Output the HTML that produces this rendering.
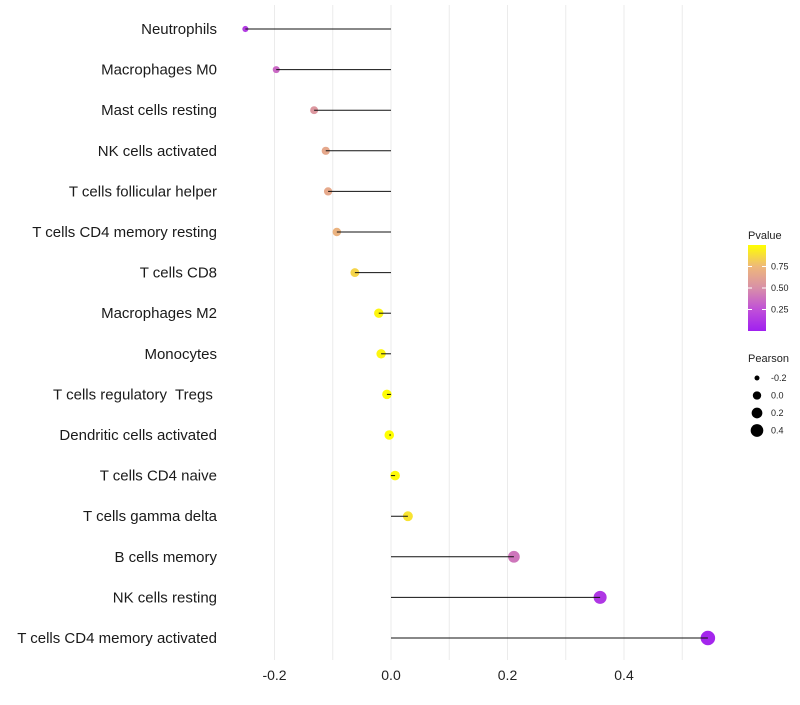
<!DOCTYPE html>
<html><head><meta charset="utf-8"><style>
body{margin:0;background:#fff;font-family:"Liberation Sans",sans-serif}
text{white-space:pre}
</style></head><body>
<svg id="chart" width="800" height="700" xmlns="http://www.w3.org/2000/svg" font-family="Liberation Sans, sans-serif"></svg>
<script>
const categories=["Neutrophils","Macrophages M0","Mast cells resting","NK cells activated","T cells follicular helper","T cells CD4 memory resting","T cells CD8","Macrophages M2","Monocytes","T cells regulatory  Tregs ","Dendritic cells activated","T cells CD4 naive","T cells gamma delta","B cells memory","NK cells resting","T cells CD4 memory activated"];
const pearson=[-0.25,-0.197,-0.132,-0.112,-0.108,-0.093,-0.062,-0.021,-0.017,-0.007,-0.003,0.007,0.029,0.211,0.359,0.544];
const pvalue=[0.15,0.35,0.55,0.65,0.66,0.72,0.85,0.97,0.97,0.99,1.0,0.98,0.9,0.4,0.12,0.03];
const xTicks=[-0.2,0,0.2,0.4];
const xTickLabels=["-0.2","0.0","0.2","0.4"];
const pTicks=[0.25,0.5,0.75];
const sizeTicks=[-0.2,0,0.2,0.4];

const NS="http://www.w3.org/2000/svg";
const svg=document.getElementById('chart');
function mk(t,a,p){const e=document.createElementNS(NS,t);for(const k in a)e.setAttribute(k,a[k]);(p||svg).appendChild(e);return e;}
const x=v=>391+v*582.5;
const y=i=>29+i*40.6;
const r=v=>Math.sqrt(Math.max(4,23+54.4*v));
const stops=[[0,[160,32,240]],[0.25,[192,80,216]],[0.5,[216,143,168]],[0.75,[238,184,122]],[1,[255,255,0]]];
function col(p){for(let i=1;i<stops.length;i++){if(p<=stops[i][0]){const a=stops[i-1],b=stops[i],t=(p-a[0])/(b[0]-a[0]);return 'rgb('+a[1].map((c,k)=>Math.round(c+(b[1][k]-c)*t)).join(',')+')';}}return 'rgb(255,255,0)';}

for(let g=-0.2;g<=0.51;g+=0.1){const l=mk('line',{x1:x(g),x2:x(g),y1:5,y2:660,stroke:'#ebebeb','stroke-width':1});

}
xTicks.forEach((t,i)=>{const tx=mk('text',{x:x(t),y:680,'text-anchor':'middle','font-size':14,fill:'#222'});tx.textContent=xTickLabels[i];

});

categories.forEach((c,i)=>{
 const lb=mk('text',{x:217,y:y(i)+5,'text-anchor':'end','font-size':15,fill:'#1a1a1a'});lb.textContent=c;
 
 
 const pt=mk('circle',{cx:x(pearson[i]),cy:y(i),r:r(pearson[i]),fill:col(pvalue[i])});
 
 
 const ln=mk('line',{x1:x(0),x2:x(pearson[i]),y1:y(i),y2:y(i),stroke:'#111','stroke-width':1});
 
 
});

const lg=mk('g',{});
const defs=mk('defs',{});const gr=mk('linearGradient',{id:'pg',x1:0,y1:1,x2:0,y2:0},defs);
stops.forEach(s=>mk('stop',{offset:s[0],'stop-color':'rgb('+s[1].join(',')+')'},gr));
const t1=mk('text',{x:748,y:239,'font-size':11,fill:'#222'},lg);t1.textContent='Pvalue';
mk('rect',{x:748,y:245,width:18,height:86,fill:'url(#pg)'},lg);
pTicks.forEach(p=>{const yy=331-p*86;mk('line',{x1:748,x2:752,y1:yy,y2:yy,stroke:'#fff'},lg);mk('line',{x1:762,x2:766,y1:yy,y2:yy,stroke:'#fff'},lg);
 const t=mk('text',{x:771,y:yy+3,'font-size':9,fill:'#222'},lg);t.textContent=p.toFixed(2);});
const t2=mk('text',{x:748,y:362,'font-size':11,fill:'#222'},lg);t2.textContent='Pearson';
const lr=v=>Math.sqrt(Math.max(1,17.5+56.25*v));
sizeTicks.forEach((s,i)=>{const yy=378+i*17.5;mk('circle',{cx:757,cy:yy,r:lr(s),fill:'#000'},lg);
 const t=mk('text',{x:771,y:yy+3,'font-size':9,fill:'#222'},lg);t.textContent=s.toFixed(1);});
</script>
</body></html>
